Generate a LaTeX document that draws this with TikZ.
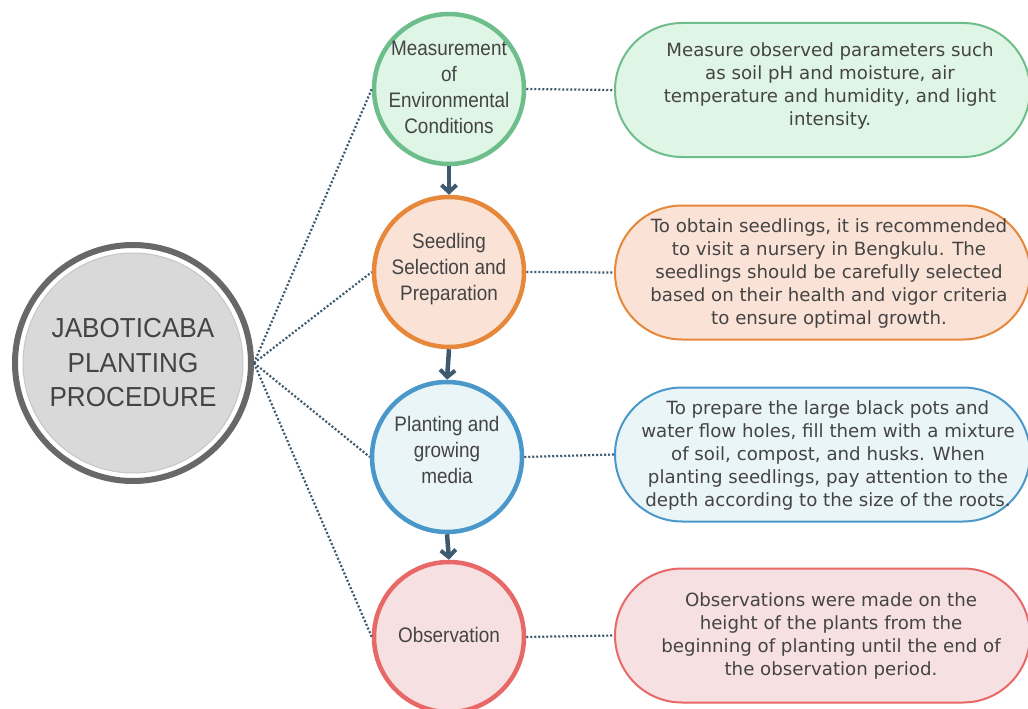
\documentclass[tikz,border=0pt]{standalone}
\usepackage{fontspec}
\setmainfont{DejaVu Sans}
\newfontfamily\circfont[FakeStretch=0.9]{Liberation Sans}
\newfontfamily\mainfont[FakeStretch=0.95]{Liberation Sans}
\usetikzlibrary{shapes.misc,arrows.meta}
\definecolor{txt}{HTML}{444444}
\definecolor{conn}{HTML}{3E5A6E}
\definecolor{gS}{HTML}{6EBE8C}\definecolor{gF}{HTML}{DFF5E6}
\definecolor{oS}{HTML}{E6873A}\definecolor{oF}{HTML}{FAE2D6}
\definecolor{bS}{HTML}{4A98C9}\definecolor{bF}{HTML}{EAF5F8}
\definecolor{rS}{HTML}{E86868}\definecolor{rF}{HTML}{F6E0E1}
\definecolor{ringC}{HTML}{686868}\definecolor{discF}{HTML}{D9D9D9}\definecolor{discS}{HTML}{C6C6C6}
\begin{document}
\begin{tikzpicture}[x=1pt,y=-1pt,
  stepc/.style={circle,line width=4.5pt,minimum size=150pt,inner sep=0pt},
  stept/.style={text=txt,align=center,font=\circfont\fontsize{21}{26}\selectfont},
  descbox/.style={rounded rectangle,line width=2pt,minimum width=415pt,minimum height=134pt,inner sep=0pt},
  desct/.style={text=txt,align=center,font=\fontsize{18.2}{23}\selectfont},
  dotline/.style={conn,line width=2.2pt,dash pattern=on 2pt off 2pt},
  flow/.style={conn,line width=4.5pt,-{Straight Barb[length=7pt,width=15pt,line width=4pt]}}
]
\useasboundingbox (0,0) rectangle (1028,709);
\fill[white] (0,0) rectangle (1028,709);
% main circle
\node[circle,draw=ringC,fill=white,line width=6pt,minimum size=236pt,inner sep=0pt] (main) at (133,363) {};
\node[circle,draw=discS,fill=discF,line width=1pt,minimum size=220pt,inner sep=0pt,
  text=txt,align=center,font=\mainfont\fontsize{27.5}{34.5}\selectfont] (maint) at (133,363) {JABOTICABA\\PLANTING\\PROCEDURE};
% step circles
\node[stepc,draw=gS,fill=gF] (c1) at (449,89) {};
\node[stepc,draw=oS,fill=oF] (c2) at (449,272) {};
\node[stepc,draw=bS,fill=bF] (c3) at (447,457) {};
\node[stepc,draw=rS,fill=rF] (c4) at (449,637) {};
\node[stept] (s1) at (449,87) {Measurement\\of\\Environmental\\Conditions};
\node[stept] (s2) at (449,269) {Seedling\\Selection and\\Preparation};
\node[stept] (s3) at (447,450) {Planting and\\growing\\media};
\node[stept] (s4) at (449,635) {Observation};
% description boxes
\node[descbox,draw=gS,fill=gF] (b1) at (822.5,90) {};
\node[descbox,draw=oS,fill=oF] (b2) at (822.5,272.5) {};
\node[descbox,draw=bS,fill=bF] (b3) at (822.5,454.5) {};
\node[descbox,draw=rS,fill=rF] (b4) at (822.5,635.5) {};
\node[desct] (t1) at (830,86) {Measure observed parameters such\\as soil pH and moisture, air\\temperature and humidity, and light\\intensity.};
\node[desct] (t2) at (829,273) {To obtain seedlings, it is recommended\\to visit a nursery in Bengkulu. The\\seedlings should be carefully selected\\based on their health and vigor criteria\\to ensure optimal growth.};
\node[desct] (t3) at (828,455) {To prepare the large black pots and\\water flow holes, fill them with a mixture\\of soil, compost, and husks. When\\planting seedlings, pay attention to the\\depth according to the size of the roots.};
\node[desct] (t4) at (831,636) {Observations were made on the\\height of the plants from the\\beginning of planting until the end of\\the observation period.};
% connectors
\foreach \c in {c1,c2,c3,c4} \draw[dotline] (main.east) -- (\c.west);
\draw[dotline] (c1.east) -- (b1.west);
\draw[dotline] (c2.east) -- (b2.west);
\draw[dotline] (c3.east) -- (b3.west);
\draw[dotline] (c4.east) -- (b4.west);
\draw[flow] (c1.south) -- (c2.north);
\draw[flow] (c2.south) -- (c3.north);
\draw[flow] (c3.south) -- (c4.north);
\end{tikzpicture}
\end{document}
